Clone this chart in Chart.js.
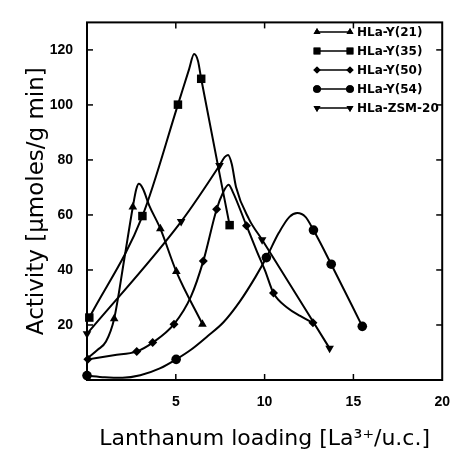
<!DOCTYPE html>
<html>
<head>
<meta charset="utf-8">
<script src="https://cdn.jsdelivr.net/npm/chart.js@4.4.1/dist/chart.umd.min.js"></script>
<style>
  html, body { margin: 0; padding: 0; background: #fff; }
</style>
</head>
<body>
<canvas id="chart" width="464" height="456"></canvas>
<script>
// Nomes das séries (legenda)
const seriesNames = ['HLa-Y(21)', 'HLa-Y(35)', 'HLa-Y(50)', 'HLa-Y(54)', 'HLa-ZSM-20'];

const y21X = [1.53, 2.58, 4.13, 5.03, 6.5];
const y21Y = [22.3, 62.9, 55, 39.4, 20.3];
const y35X = [0.13, 3.12, 5.12, 6.43, 8.03];
const y35Y = [22.7, 59.6, 100.1, 109.5, 56.3];
const y50X = [0.05, 2.8, 3.7, 4.9, 6.55, 7.3, 8.98, 10.5, 12.72];
const y50Y = [7.5, 10.4, 13.6, 20.3, 43.3, 62.1, 56.1, 31.6, 20.8];
const y54X = [0, 5.02, 10.1, 12.75, 13.75, 15.5];
const y54Y = [1.6, 7.5, 44.5, 54.5, 42.1, 19.5];
const zsmX = [0, 5.3, 7.46, 9.86, 13.66];
const zsmY = [16.8, 57.6, 78, 51, 11.5];

// Curvas ajustadas (tracado, com os picos)
const y21CurveX = [0.05, 0.6, 1.07, 1.53, 2.1, 2.58, 2.78, 2.92, 3.15, 3.5, 4.13, 5.03, 6.5];
const y21CurveY = [8, 11, 14, 22.3, 44, 62.9, 69.5, 71.3, 69.5, 63.5, 55, 39.4, 20.3];
const y35CurveX = [0.13, 3.12, 5.12, 5.75, 6.03, 6.25, 6.43, 8.03];
const y35CurveY = [22.7, 59.6, 100.1, 113, 118.5, 116, 109.5, 56.3];
const y50CurveX = [0.05, 1.5, 2.8, 3.7, 4.9, 5.85, 6.55, 7.3, 7.65, 7.97, 8.2, 8.98, 9.57, 10.03, 10.5, 11.3, 12.0, 12.72];
const y50CurveY = [7.5, 9, 10.4, 13.6, 20.3, 30.3, 43.3, 62.1, 68, 71, 68.5, 56.1, 46.7, 39.7, 31.6, 26.2, 23.3, 20.8];
const y54CurveX = [0, 1, 2, 3, 4.1, 5.02, 5.85, 6.8, 7.67, 8.6, 9.48, 10.1, 10.8, 11.4, 11.84, 12.3, 12.75, 13.75, 15.5];
const y54CurveY = [1.6, 1.0, 0.8, 1.7, 4.2, 7.5, 11, 16, 20.9, 28.5, 37.4, 44.5, 53.5, 59.3, 60.7, 59.3, 54.5, 42.1, 19.5];
const zsmCurveX = [0, 5.3, 7.46, 7.75, 7.94, 8.15, 8.39, 9.12, 9.86, 13.66];
const zsmCurveY = [16.8, 57.6, 78, 81, 81.8, 78.5, 70.2, 58.5, 51, 11.5];

// Eixos
const xMin = 0, xMax = 20, xStep = 5;
const yMin = 0, yMax = 130, yStep = 20;

const pts = (xs, ys) => xs.map((v, i) => ({ x: v, y: ys[i] }));

const markerStyles = [
    { pointStyle: 'triangle', radius: 5, rotation: 0 },
    { pointStyle: 'rect', radius: 6, rotation: 0 },
    { pointStyle: 'rectRot', radius: 4.5, rotation: 0 },
    { pointStyle: 'circle', radius: 4.8, rotation: 0 },
    { pointStyle: 'triangle', radius: 5, rotation: 180 }
];

const curves = [
    pts(y21CurveX, y21CurveY), pts(y35CurveX, y35CurveY), pts(y50CurveX, y50CurveY),
    pts(y54CurveX, y54CurveY), pts(zsmCurveX, zsmCurveY)
];
const markers = [
    pts(y21X, y21Y), pts(y35X, y35Y), pts(y50X, y50Y), pts(y54X, y54Y), pts(zsmX, zsmY)
];

const datasets = [];
curves.forEach((c, i) => {
    datasets.push({
        label: seriesNames[i] + ' curve',
        data: c,
        showLine: true,
        pointRadius: 0,
        borderColor: '#000',
        borderWidth: 2,
        cubicInterpolationMode: 'monotone',
        clip: false
    });
});
markers.forEach((m, i) => {
    const s = markerStyles[i];
    datasets.push({
        label: seriesNames[i],
        data: m,
        showLine: false,
        pointStyle: s.pointStyle,
        pointRadius: s.radius,
        rotation: s.rotation,
        backgroundColor: '#000',
        borderColor: '#000',
        borderWidth: 0,
        clip: false
    });
});

// Moldura, ticks para dentro e legenda
const framePlugin = {
    id: 'frame',
    afterDraw(chart) {
        const { ctx, chartArea: a, scales } = chart;
        ctx.save();
        ctx.strokeStyle = '#000';
        ctx.lineWidth = 2;
        ctx.strokeRect(a.left, a.top, a.right - a.left, a.bottom - a.top);

        ctx.lineWidth = 1.5;
        const seg = (x1, y1, x2, y2) => { ctx.beginPath(); ctx.moveTo(x1, y1); ctx.lineTo(x2, y2); ctx.stroke(); };
        scales.x.ticks.forEach(t => {
            if (t.value <= xMin || t.value >= xMax) return;
            const px = scales.x.getPixelForValue(t.value);
            seg(px, a.bottom, px, a.bottom - 6);
            seg(px, a.top, px, a.top + 6);
        });
        scales.y.ticks.forEach(t => {
            if (t.value <= yMin || t.value >= yMax) return;
            const py = scales.y.getPixelForValue(t.value);
            seg(a.left, py, a.left + 6, py);
            seg(a.right, py, a.right - 6, py);
        });

        // legenda
        ctx.fillStyle = '#000';
        ctx.font = 'bold 12px "DejaVu Sans"';
        ctx.textBaseline = 'middle';
        seriesNames.forEach((name, i) => {
            const yy = 32 + i * 19;
            const s = markerStyles[i];
            const opts = { pointStyle: s.pointStyle, radius: s.radius * 0.8, rotation: s.rotation, borderWidth: 0 };
            ctx.lineWidth = 1.5;
            seg(318, yy, 349, yy);
            Chart.helpers.drawPoint(ctx, opts, 317, yy);
            ctx.fill();
            Chart.helpers.drawPoint(ctx, opts, 350, yy);
            ctx.fill();
            ctx.fillText(name, 357, yy + 1);
        });
        ctx.restore();
    }
};

const tickFont = { family: '"Liberation Sans"', size: 14, weight: 'bold' };

new Chart(document.getElementById('chart'), {
    type: 'scatter',
    data: { datasets },
    options: {
        responsive: false,
        animation: false,
        layout: { padding: { top: 11, right: 11, left: 0, bottom: 0 } },
        plugins: { legend: { display: false }, tooltip: { enabled: false } },
        scales: {
            x: {
                type: 'linear', min: xMin, max: xMax,
                grid: { display: false, drawTicks: false },
                border: { display: false },
                ticks: {
                    stepSize: xStep, includeBounds: false, padding: 14,
                    color: '#000', font: tickFont, maxRotation: 0,
                    callback: v => (v === 0 ? '' : v)
                },
                title: {
                    display: true, text: 'Lanthanum loading [La³⁺/u.c.]',
                    color: '#000', font: { family: '"DejaVu Sans"', size: 22 },
                    padding: { top: 0, bottom: 4 }
                },
                afterFit: s => { s.height = 76; }
            },
            y: {
                type: 'linear', min: yMin, max: yMax,
                grid: { display: false, drawTicks: false },
                border: { display: false },
                ticks: {
                    stepSize: yStep, includeBounds: false, padding: 14,
                    color: '#000', font: tickFont,
                    callback: v => (v === 0 ? '' : v)
                },
                title: {
                    display: true, text: 'Activity [µmoles/g min]',
                    color: '#000', font: { family: '"DejaVu Sans"', size: 23 },
                    padding: { top: 23, bottom: 0 }
                },
                afterFit: s => { s.width = 87; }
            }
        }
    },
    plugins: [framePlugin]
});
</script>
</body>
</html>
